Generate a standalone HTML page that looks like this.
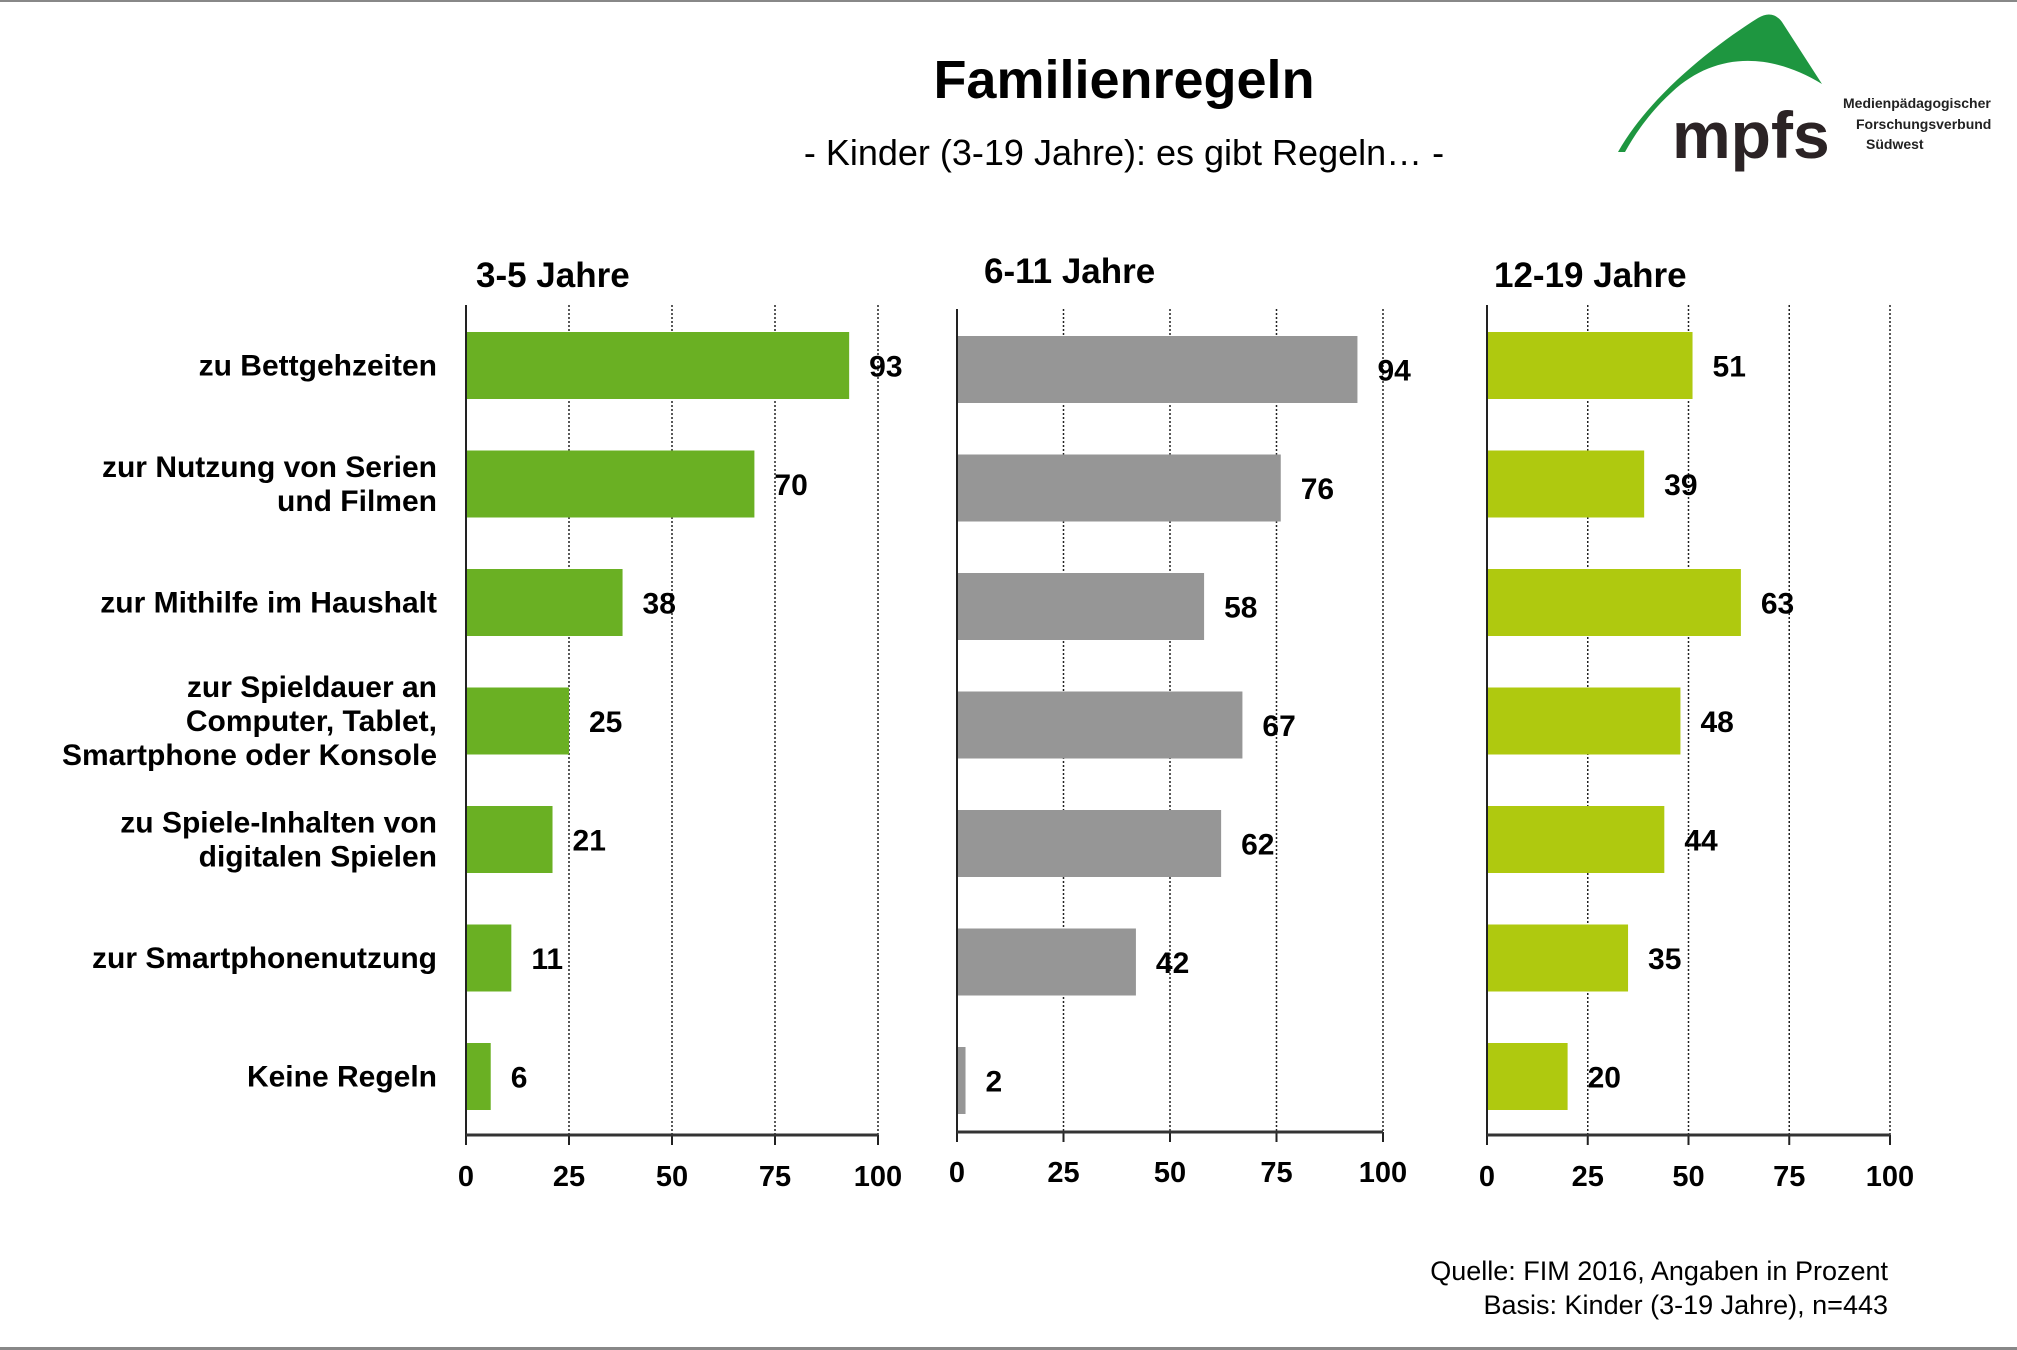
<!DOCTYPE html>
<html><head><meta charset="utf-8"><style>
body{margin:0;background:#fff;}
svg{display:block;font-family:"Liberation Sans",sans-serif;}
</style></head><body>
<svg id="chart" width="2017" height="1350" viewBox="0 0 2017 1350">
<rect x="0" y="0" width="2017" height="2" fill="#888"/>
<rect x="0" y="1347" width="2017" height="3" fill="#888"/>
<text x="1124" y="98" text-anchor="middle" font-size="54" font-weight="bold">Familienregeln</text>
<text x="1124" y="165" text-anchor="middle" font-size="36">- Kinder (3-19 Jahre): es gibt Regeln… -</text>
<g>
<path d="M1618,152 C1650,95 1715,45 1758,18 C1768,12 1776,14 1782,22 L1822,84 C1770,52 1715,52 1672,92 C1652,110 1636,132 1625,152 Z" fill="#1e9640"/>
<text x="1672" y="158" font-size="66" font-weight="bold" fill="#2b2325">mpfs</text>
<text x="1843" y="108" font-size="14" font-weight="bold" fill="#222">Medienpädagogischer</text>
<text x="1856" y="129" font-size="14" font-weight="bold" fill="#222">Forschungsverbund</text>
<text x="1866" y="149" font-size="14" font-weight="bold" fill="#222">Südwest</text>
</g>
<text x="1888" y="1280" text-anchor="end" font-size="27">Quelle: FIM 2016, Angaben in Prozent</text>
<text x="1888" y="1314" text-anchor="end" font-size="27">Basis: Kinder (3-19 Jahre), n=443</text>
</svg>
<script>
const categories=[["zu Bettgehzeiten"],["zur Nutzung von Serien","und Filmen"],["zur Mithilfe im Haushalt"],["zur Spieldauer an","Computer, Tablet,","Smartphone oder Konsole"],["zu Spiele-Inhalten von","digitalen Spielen"],["zur Smartphonenutzung"],["Keine Regeln"]];
const panelTitles=["3-5 Jahre","6-11 Jahre","12-19 Jahre"];
const values35=[93,70,38,25,21,11,6];
const values611=[94,76,58,67,62,42,2];
const values1219=[51,39,63,48,44,35,20];
const ticks=[0,25,50,75,100];
const svg=document.getElementById('chart');
const NS='http://www.w3.org/2000/svg';
function mk(tag,attrs,parent){const e=document.createElementNS(NS,tag);for(const k in attrs)e.setAttribute(k,attrs[k]);(parent||svg).appendChild(e);return e;}
const panels=[
 {vals:values35,x0:466,x1:878,top:332,axisY:1135,gridTop:305,tickY:1186,titleX:476,titleY:287,color:'#6ab023'},
 {vals:values611,x0:957,x1:1383,top:336,axisY:1132,gridTop:309,tickY:1182,titleX:984,titleY:283,color:'#969696'},
 {vals:values1219,x0:1487,x1:1890,top:332,axisY:1135,gridTop:305,tickY:1186,titleX:1494,titleY:287,color:'#afc90f'}
];
const step=118.5,barH=67;
categories.forEach((lines,i)=>{
 const cy=332+i*step+barH/2;
 const t=mk('text',{x:437,'text-anchor':'end','font-size':30,'font-weight':'bold'});
 
 
 const n=lines.length;
 lines.forEach((ln,j)=>{const s=mk('tspan',{x:437,y:cy+10+(j-(n-1)/2)*34},t);s.textContent=ln;});
});
panels.forEach((p,pi)=>{
 const sx=v=>p.x0+(p.x1-p.x0)*v/100;
 const g=mk('g',{});
 
 
 const tt=mk('text',{x:p.titleX,y:p.titleY,'font-size':35,'font-weight':'bold'},g);
 
 
 tt.textContent=panelTitles[pi];
 ticks.forEach(v=>{
  if(v>0){const gl=mk('line',{x1:sx(v),x2:sx(v),y1:p.gridTop,y2:p.axisY,stroke:'#222','stroke-width':1.5,'stroke-dasharray':'2,2'},g);
  
  }
  const tk=mk('line',{x1:sx(v),x2:sx(v),y1:p.axisY,y2:p.axisY+10,stroke:'#222','stroke-width':2},g);
  
  
  const tl=mk('text',{x:sx(v),y:p.tickY,'text-anchor':'middle','font-size':29,'font-weight':'bold'},g);
  
  
  tl.textContent=v;
 });
 p.vals.forEach((v,i)=>{
  const y=p.top+i*step;
  const b=mk('rect',{x:p.x0,y:y,width:sx(v)-p.x0,height:barH,fill:p.color},g);
  
  
  const vl=mk('text',{x:sx(v)+20,y:y+barH/2+11,'font-size':30,'font-weight':'bold'},g);
  
  
  vl.textContent=v;
 });
 const ya=mk('line',{x1:p.x0,x2:p.x0,y1:p.gridTop,y2:p.axisY+10,stroke:'#222','stroke-width':2},g);
 
 
 const xa=mk('line',{x1:p.x0,x2:p.x1,y1:p.axisY,y2:p.axisY,stroke:'#333','stroke-width':3},g);
 
 
});
</script>
</body></html>
